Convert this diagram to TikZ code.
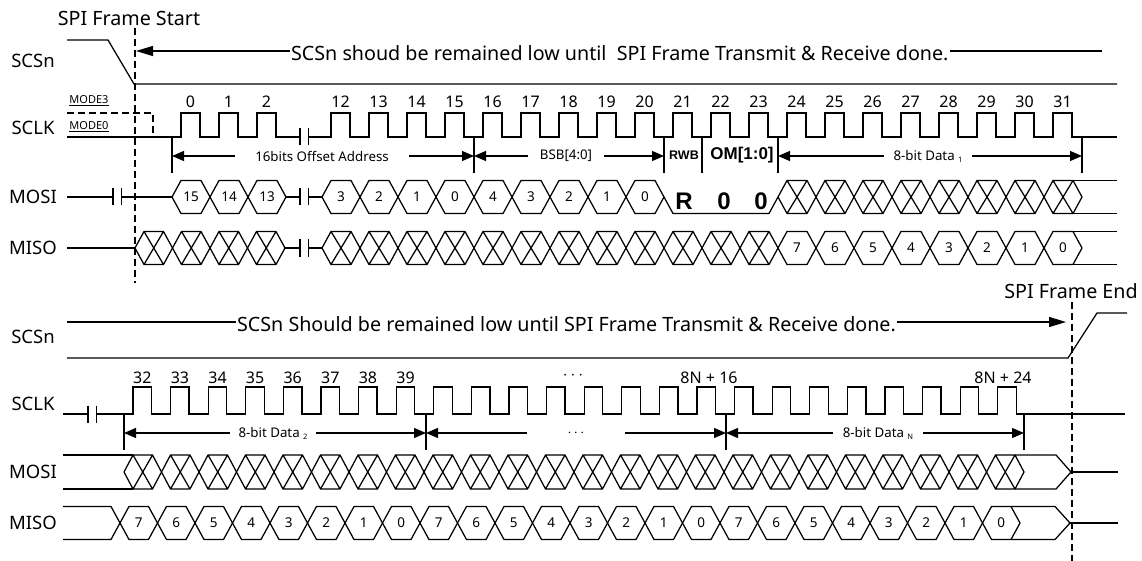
\documentclass[tikz,border=0pt]{standalone}
\usepackage{fontspec}
\setmainfont{Noto Sans}
\newfontfamily\boldfam{Liberation Sans}
\usetikzlibrary{arrows.meta}
\newcommand\hexcell[6]{%
  \draw (#1,#3) -- (#1+9,#3-#4) -- (#2-9,#3-#4) -- (#2,#3) -- (#2-9,#3+#4) -- (#1+9,#3+#4) -- cycle;
  \node[num] (#6) at ({(#1+#2)/2},#3) {#5};}
\newcommand\xcell[4]{%
  \draw (#1,#3) -- (#1+9,#3-#4) -- (#2-9,#3-#4) -- (#2,#3) -- (#2-9,#3+#4) -- (#1+9,#3+#4) -- cycle
    (#1+9,#3-#4) -- (#2-9,#3+#4) (#1+9,#3+#4) -- (#2-9,#3-#4);}
\newcommand\brkmark[2]{%
  \draw (#1,#2-8.5) -- (#1,#2+8.5) (#1+8.5,#2-8.5) -- (#1+8.5,#2+8.5);}
\newcommand\subtxt[1]{\raisebox{-2pt}{\fontsize{7.5}{7.5}\selectfont #1}}
\begin{document}
\begin{tikzpicture}[x=1pt,y=-1pt,line width=1.25pt,line join=miter,
  sig/.style={font=\fontsize{18.5}{19}\selectfont, inner sep=0pt},
  ann/.style={font=\fontsize{19.7}{21}\selectfont, inner sep=0.5pt},
  clk/.style={font=\fontsize{16}{17}\selectfont, inner sep=0pt},
  num/.style={font=\fontsize{13.5}{14}\selectfont, inner sep=0pt},
  small/.style={font=\fontsize{13.3}{14}\selectfont, inner ysep=0pt},
  mode/.style={font=\fontsize{11}{12}\selectfont, inner sep=0pt},
  bld/.style={font=\boldfam\bfseries\fontsize{#1}{#1}\selectfont, inner sep=0pt},
  dsh/.style={dash pattern=on 7pt off 4pt, line width=1.1pt},
  arr/.style={-{Triangle[length=12pt,width=10pt]}},
  bigarr/.style={-{Triangle[length=17pt,width=10pt]}},
]
\useasboundingbox (0,0) rectangle (1142,561);

% ---------- signal names ----------
\node[sig] (s1) at (33,61) {SCSn};
\node[sig] (s2) at (33,128) {SCLK};
\node[sig] (s3) at (33,197) {MOSI};
\node[sig] (s4) at (33,248) {MISO};
\node[sig] (s5) at (33,337) {SCSn};
\node[sig] (s6) at (33,404) {SCLK};
\node[sig] (s7) at (33,472) {MOSI};
\node[sig] (s8) at (33,523) {MISO};

% ---------- frame markers ----------
\node[ann] (fs) at (129,18) {SPI Frame Start};
\node[ann] (fe) at (1071,291) {SPI Frame End};
\draw[dsh] (135,28) -- (135,283);
\draw[dsh] (1072,302) -- (1072,561);

% ================= TOP =================
% SCSn
\draw (67,40) -- (108,40) -- (134,84) -- (1117,84);
\node[ann, anchor=west] (a1) at (290,53) {SCSn shoud be remained low until\ \ SPI Frame Transmit \& Receive done.};
\draw[bigarr] (a1.west |- 0,51) -- (136,51);
\draw (a1.east |- 0,51) -- (1102,51);

% SCLK
\node[mode] (m3) at (89,101) {\underline{MODE3}};
\node[mode] (m0) at (89,127) {\underline{MODE0}};
\draw[dsh] (67,113) -- (153,113) -- (153,137);
\draw (67,137) foreach \k in {0,1,2} { -- ({181+38*\k},137) -- ++(0,-24) -- ++(19,0) -- ++(0,24) } -- (300,137);
\brkmark{300}{137}
\draw (308.5,137) foreach \k in {12,...,31} { -- ({331+38*(\k-12)},137) -- ++(0,-24) -- ++(19,0) -- ++(0,24) } -- (1117,137);
\foreach \k in {0,1,2} \node[clk] (c\k) at ({190.5+38*\k},102) {\k};
\foreach \k in {12,...,31} \node[clk] (c\k) at ({340.5+38*(\k-12)},102) {\k};

% markers
\foreach \x/\n in {172/mkA,474/mkB,664/mkC,702/mkD,778/mkE,1082/mkF} {
  \draw (\x,137) -- (\x,173);
  \coordinate (\n) at (\x,156);
}
\node[small, inner xsep=20pt] (l16) at (322,156) {16bits Offset Address};
\draw[arr] (l16.west) -- (mkA); \draw[arr] (l16.east) -- (mkB);
\node[small, inner xsep=11pt] (lbsb) at (566,156) {BSB[4:0]};
\draw[arr] (lbsb.west) -- (mkB); \draw[arr] (lbsb.east) -- (mkC);
\node[bld=12.5] (lrwb) at (684,155) {RWB};
\node[bld=17] (lom) at (742,155) {OM[1:0]};
\node[small, inner xsep=9pt] (ld1) at (928,156) {8-bit Data \subtxt{1}};
\draw[arr] (ld1.west) -- (mkE); \draw[arr] (ld1.east) -- (mkF);

% MOSI
\draw (67,197) -- (113,197);
\brkmark{113}{197}
\draw (121.5,197) -- (172,197);
\foreach \lab [count=\i from 0] in {15,14,13} {
  \pgfmathsetmacro\xa{172+38*\i}\pgfmathsetmacro\xb{\xa+38}
  \hexcell{\xa}{\xb}{197}{16.5}{\lab}{moa\i}}
\draw (286,197) -- (300,197);
\brkmark{300}{197}
\draw (308.5,197) -- (322,197);
\foreach \lab [count=\i from 0] in {3,2,1,0,4,3,2,1,0} {
  \pgfmathsetmacro\xa{322+38*\i}\pgfmathsetmacro\xb{\xa+38}
  \hexcell{\xa}{\xb}{197}{16.5}{\lab}{mob\i}}
\draw (664,197) -- (673,213.5) -- (769,213.5) -- (778,197);
\node[bld=24] (rR) at (684,201) {R};
\node[bld=24] (rO1) at (724,201) {0};
\node[bld=24] (rO2) at (761,201) {0};
\foreach \i in {0,...,7} {
  \pgfmathsetmacro\xa{778+38*\i}\pgfmathsetmacro\xb{\xa+38}
  \xcell{\xa}{\xb}{197}{16.5}}
\draw (1073,180.5) -- (1117,180.5) (1073,213.5) -- (1117,213.5);

% MISO
\draw (67,248) -- (135,248);
\foreach \i in {0,...,3} {
  \pgfmathsetmacro\xa{135+37.5*\i}\pgfmathsetmacro\xb{\xa+37.5}
  \xcell{\xa}{\xb}{248}{16.5}}
\draw (285,248) -- (300,248);
\brkmark{300}{248}
\draw (308.5,248) -- (322,248);
\foreach \i in {0,...,11} {
  \pgfmathsetmacro\xa{322+38*\i}\pgfmathsetmacro\xb{\xa+38}
  \xcell{\xa}{\xb}{248}{16.5}}
\foreach \lab [count=\i from 0] in {7,6,5,4,3,2,1,0} {
  \pgfmathsetmacro\xa{778+38*\i}\pgfmathsetmacro\xb{\xa+38}
  \hexcell{\xa}{\xb}{248}{16.5}{\lab}{mia\i}}
\draw (1073,231.5) -- (1117,231.5) (1073,264.5) -- (1117,264.5);

% ================= BOTTOM =================
% SCSn
\draw (67,358) -- (1068,358) -- (1097,313) -- (1127,313);
\node[ann, anchor=west] (a2) at (236,324) {SCSn Should be remained low until SPI Frame Transmit \& Receive done.};
\draw (67,322) -- (a2.west |- 0,322);
\draw[bigarr] (a2.east |- 0,322) -- (1066,322);

% SCLK
\draw (63,414) -- (88,414);
\brkmark{88}{414}
\draw (96.5,414) foreach \j in {0,...,23} { -- ({133+37.6*\j},414) -- ++(0,-27) -- ++(18.5,0) -- ++(0,27) } -- (1125,414);
\foreach \j [evaluate=\j as \lab using int(32+\j)] in {0,...,7} \node[clk] (d\j) at ({142.3+37.6*\j},378) {\lab};
\node[clk] (ddots) at (573,376) {$\cdots$};
\node[clk] (d16) at (709,378) {8N + 16};
\node[clk] (d24) at (1003,378) {8N + 24};

% markers
\foreach \x/\n in {124/mkG,426/mkH,726/mkI,1024/mkJ} {
  \draw (\x,414) -- (\x,450);
  \coordinate (\n) at (\x,433);
}
\node[small, inner xsep=8pt] (ld2) at (273,433) {8-bit Data \subtxt{2}};
\draw[arr] (ld2.west) -- (mkG); \draw[arr] (ld2.east) -- (mkH);
\node[small, inner xsep=40pt] (ldd) at (576,433) {$\cdots$};
\draw[arr] (ldd.west) -- (mkH); \draw[arr] (ldd.east) -- (mkI);
\node[small, inner xsep=9pt] (ldn) at (878,433) {8-bit Data \subtxt{N}};
\draw[arr] (ldn.west) -- (mkI); \draw[arr] (ldn.east) -- (mkJ);

% MOSI
\draw (63,455) -- (133,455) (63,489) -- (133,489);
\foreach \i in {0,...,23} {
  \pgfmathsetmacro\xa{124+37.5*\i}\pgfmathsetmacro\xb{\xa+37.5}
  \xcell{\xa}{\xb}{472}{17}}
\draw (1015,455) -- (1056,455) -- (1071,472) -- (1056,489) -- (1015,489);
\draw (1071,472) -- (1118,472);

% MISO
\draw (63,506.5) -- (111,506.5) -- (120,523) -- (111,539.5) -- (63,539.5);
\foreach \lab [count=\i from 0] in {7,6,5,4,3,2,1,0,7,6,5,4,3,2,1,0,7,6,5,4,3,2,1,0} {
  \pgfmathsetmacro\xa{120+37.5*\i}\pgfmathsetmacro\xb{\xa+37.5}
  \hexcell{\xa}{\xb}{523}{16.5}{\lab}{mib\i}}
\draw (1011,506.5) -- (1055,506.5) -- (1070,523) -- (1055,539.5) -- (1011,539.5);
\draw (1070,523) -- (1118,523);
\end{tikzpicture}
\end{document}
